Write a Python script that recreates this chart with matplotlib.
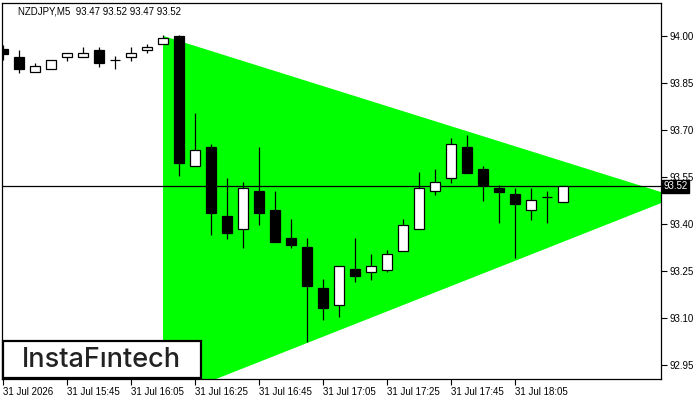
"""
NZDJPY M5 candles with a bullish symmetrical triangle
"""
import matplotlib
matplotlib.use("Agg")
import matplotlib.pyplot as plt
from matplotlib.patches import Rectangle, Polygon

# OHLC for each 5 minute bar, left to right
opens = [93.958, 93.932, 93.884, 93.895, 93.932, 93.932, 93.954, 93.924, 93.932, 93.954,
         93.974, 94.000, 93.584, 93.645, 93.425, 93.383, 93.504, 93.445, 93.355, 93.327,
         93.196, 93.142, 93.256, 93.245, 93.254, 93.315, 93.383, 93.504, 93.545, 93.645,
         93.575, 93.515, 93.496, 93.444, 93.485, 93.47]
highs = [93.971, 93.955, 93.915, 93.922, 93.945, 93.966, 93.965, 93.936, 93.964, 93.974,
         94.002, 94.003, 93.753, 93.655, 93.547, 93.533, 93.645, 93.504, 93.416, 93.355,
         93.224, 93.265, 93.355, 93.304, 93.317, 93.416, 93.565, 93.575, 93.674, 93.684,
         93.585, 93.523, 93.515, 93.515, 93.505, 93.52]
lows = [93.923, 93.883, 93.884, 93.895, 93.921, 93.932, 93.902, 93.894, 93.921, 93.945,
        93.974, 93.554, 93.584, 93.363, 93.353, 93.324, 93.395, 93.343, 93.324, 93.024,
        93.094, 93.104, 93.213, 93.222, 93.245, 93.315, 93.383, 93.493, 93.532, 93.564,
        93.474, 93.404, 93.292, 93.414, 93.404, 93.47]
closes = [93.943, 93.894, 93.904, 93.922, 93.945, 93.947, 93.912, 93.922, 93.946, 93.965,
          93.993, 93.594, 93.635, 93.434, 93.372, 93.514, 93.434, 93.343, 93.334, 93.203,
          93.133, 93.265, 93.235, 93.265, 93.304, 93.396, 93.514, 93.533, 93.654, 93.564,
          93.523, 93.503, 93.462, 93.476, 93.485, 93.52]

last_price = 93.52
header = "NZDJPY,M5  93.47 93.52 93.47 93.52"

# triangle corners (bar index, price)
tri_x = [10, 10, 42.1]
tri_y = [94.00, 92.838, 93.486]

x_ticks = [0, 4, 8, 12, 16, 20, 24, 28, 32]
x_labels = ["31 Jul 2026", "31 Jul 15:45", "31 Jul 16:05", "31 Jul 16:25", "31 Jul 16:45",
            "31 Jul 17:05", "31 Jul 17:25", "31 Jul 17:45", "31 Jul 18:05"]
y_ticks = [92.95, 93.10, 93.25, 93.40, 93.55, 93.70, 93.85, 94.00]

plt.rcParams['font.family'] = ['Liberation Sans', 'DejaVu Sans']

fig = plt.figure(figsize=(7, 4), dpi=100)
ax = fig.add_axes([2 / 700, 21 / 400, 659 / 700, 376 / 400])
ax.set_xlim(-0.06, 41.12)
ax.set_ylim(92.905, 94.105)

ax.add_patch(Polygon(list(zip(tri_x, tri_y)), closed=True, facecolor="#00ff00",
                     edgecolor="none", zorder=1))
ax.axhline(last_price, color="black", lw=0.9, zorder=2)

body_w = 0.62
for i in range(len(opens)):
    o, h, l, c = opens[i], highs[i], lows[i], closes[i]
    ax.vlines(i, l, h, color="black", lw=0.9, zorder=3)
    lo = min(o, c)
    hgt = abs(c - o)
    face = "white" if c >= o else "black"
    if hgt < 0.004:
        ax.hlines(o, i - body_w / 2, i + body_w / 2, color="black", lw=0.9, zorder=4)
    else:
        ax.add_patch(Rectangle((i - body_w / 2, lo), body_w, hgt, facecolor=face,
                               edgecolor="black", lw=0.9, zorder=4))

ax.yaxis.tick_right()
ax.set_yticks(y_ticks)
ax.set_yticklabels([f"{v:.2f}" for v in y_ticks])
ax.set_xticks(x_ticks)
ax.set_xticklabels(x_labels, ha="left")
ax.tick_params(axis="both", labelsize=7, length=4, width=0.8, pad=2, direction="out")
for sp in ax.spines.values():
    sp.set_linewidth(0.9)

ax.text(1.004, last_price, f"{last_price:.2f}", transform=ax.get_yaxis_transform(),
        fontsize=7, color="white", va="center", ha="left",
        bbox=dict(boxstyle="square,pad=0.15", fc="black", ec="black"),
        zorder=6, clip_on=False)

fig.text(18 / 700, 1 - 11 / 400, header, fontsize=7, va="center", ha="left")

# logo box
fig.add_artist(Rectangle((3 / 700, 22 / 400), 198 / 700, 37 / 400, transform=fig.transFigure,
                         facecolor="white", edgecolor="black", lw=1.6, zorder=10))
fig.text(101 / 700, 1 - 360 / 400, "InstaFıntech", fontsize=19.5, color="#222222",
         family="Inter", weight="medium", ha="center", va="center", zorder=11)

fig.savefig("out.png", dpi=100)
